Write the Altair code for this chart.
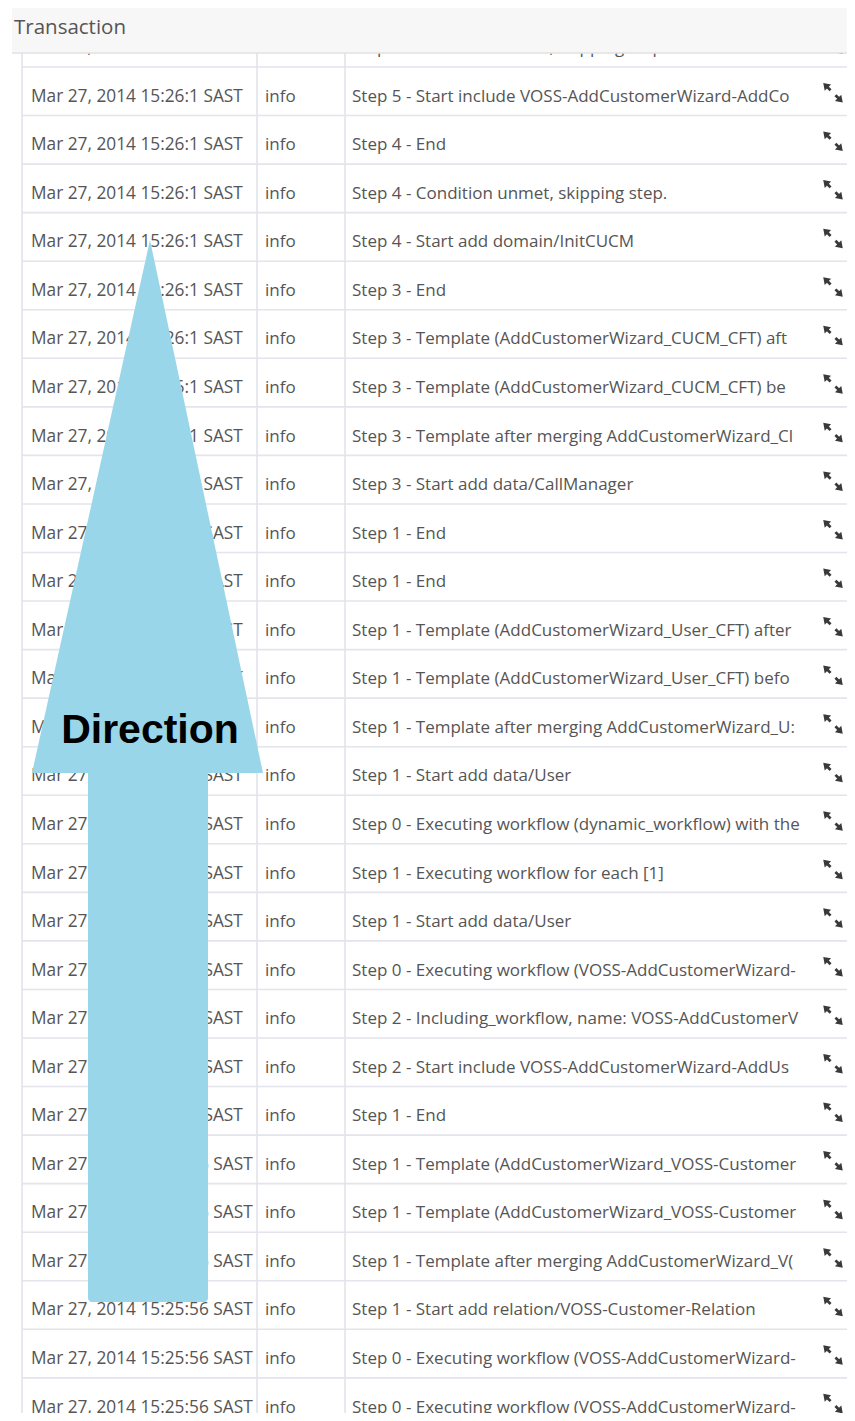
import altair as alt
import pandas as pd

# ---------------- data ----------------
timestamps = [
    "Mar 27, 2014 15:26:1 SAST",
    "Mar 27, 2014 15:26:1 SAST",
    "Mar 27, 2014 15:26:1 SAST",
    "Mar 27, 2014 15:26:1 SAST",
    "Mar 27, 2014 15:26:1 SAST",
    "Mar 27, 2014 15:26:1 SAST",
    "Mar 27, 2014 15:26:1 SAST",
    "Mar 27, 2014 15:26:1 SAST",
    "Mar 27, 2014 15:26:1 SAST",
    "Mar 27, 2014 15:26:1 SAST",
    "Mar 27, 2014 15:26:1 SAST",
    "Mar 27, 2014 15:26:1 SAST",
    "Mar 27, 2014 15:26:1 SAST",
    "Mar 27, 2014 15:26:1 SAST",
    "Mar 27, 2014 15:26:1 SAST",
    "Mar 27, 2014 15:26:1 SAST",
    "Mar 27, 2014 15:26:1 SAST",
    "Mar 27, 2014 15:26:1 SAST",
    "Mar 27, 2014 15:26:1 SAST",
    "Mar 27, 2014 15:26:1 SAST",
    "Mar 27, 2014 15:26:1 SAST",
    "Mar 27, 2014 15:26:1 SAST",
    "Mar 27, 2014 15:26:1 SAST",
    "Mar 27, 2014 15:25:56 SAST",
    "Mar 27, 2014 15:25:56 SAST",
    "Mar 27, 2014 15:25:56 SAST",
    "Mar 27, 2014 15:25:56 SAST",
    "Mar 27, 2014 15:25:56 SAST",
    "Mar 27, 2014 15:25:56 SAST",
]

levels = [
    "info", "info", "info", "info", "info", "info", "info", "info", "info", "info",
    "info", "info", "info", "info", "info", "info", "info", "info", "info", "info",
    "info", "info", "info", "info", "info", "info", "info", "info", "info",
]

messages = [
    "Step 5 - Condition unmet, skipping step.",
    "Step 5 - Start include VOSS-AddCustomerWizard-AddCo",
    "Step 4 - End",
    "Step 4 - Condition unmet, skipping step.",
    "Step 4 - Start add domain/InitCUCM",
    "Step 3 - End",
    "Step 3 - Template (AddCustomerWizard_CUCM_CFT) aft",
    "Step 3 - Template (AddCustomerWizard_CUCM_CFT) be",
    "Step 3 - Template after merging AddCustomerWizard_Cl",
    "Step 3 - Start add data/CallManager",
    "Step 1 - End",
    "Step 1 - End",
    "Step 1 - Template (AddCustomerWizard_User_CFT) after",
    "Step 1 - Template (AddCustomerWizard_User_CFT) befo",
    "Step 1 - Template after merging AddCustomerWizard_U:",
    "Step 1 - Start add data/User",
    "Step 0 - Executing workflow (dynamic_workflow) with the",
    "Step 1 - Executing workflow for each [1]",
    "Step 1 - Start add data/User",
    "Step 0 - Executing workflow (VOSS-AddCustomerWizard-",
    "Step 2 - Including_workflow, name: VOSS-AddCustomerV",
    "Step 2 - Start include VOSS-AddCustomerWizard-AddUs",
    "Step 1 - End",
    "Step 1 - Template (AddCustomerWizard_VOSS-Customer",
    "Step 1 - Template (AddCustomerWizard_VOSS-Customer",
    "Step 1 - Template after merging AddCustomerWizard_V(",
    "Step 1 - Start add relation/VOSS-Customer-Relation",
    "Step 0 - Executing workflow (VOSS-AddCustomerWizard-",
    "Step 0 - Executing workflow (VOSS-AddCustomerWizard-",
]

header_title = "Transaction"
arrow_label = "Direction"

# ---------------- layout (pixel geometry of the page) ----------------
W, H = 839, 1405
ROW_TOP0 = 67.0      # top of first full row (page px)
ROW_H = 48.55        # row height (page px)


def ry(py):
    """page pixel y -> row units"""
    return (py - ROW_TOP0) / ROW_H


X_DOM = [8, 8 + W]
Y_DOM = [ry(8), ry(8 + H)]

HEADER_BOTTOM = 53
COL_LINES = [22, 257, 345]
TEXT_X = [31, 265, 352]
ICON_X = 833
RIGHT = 8 + W

xs = alt.Scale(domain=X_DOM, nice=False, zero=False)
ys = alt.Scale(domain=Y_DOM, nice=False, zero=False, reverse=True)


def X(f):
    return alt.X(f, type="quantitative", scale=xs, axis=None)


def X2(f):
    return alt.X2(f)


def Y(f):
    return alt.Y(f, type="quantitative", scale=ys, axis=None)


def Y2(f):
    return alt.Y2(f)


n = len(messages)
rows = pd.DataFrame({
    "row": list(range(-1, n - 1)),
    "ts": timestamps,
    "lvl": levels,
    "msg": messages,
})
rows["top"] = rows["row"].astype(float)
rows["base"] = rows["row"] + 0.715
rows["mid"] = rows["row"] + 0.53
rows["xl"] = COL_LINES[0]
rows["xr"] = RIGHT
rows["x1"] = TEXT_X[0]
rows["x2t"] = TEXT_X[1]
rows["x3"] = TEXT_X[2]
rows["xi"] = ICON_X

grey_line = "#e3e4ec"
text_col = "#555555"
font = "Open Sans"
fs = 17

hrules = alt.Chart(rows).mark_rule(color=grey_line, strokeWidth=1.6).encode(
    x=X("xl"), x2=X2("xr"), y=Y("top"))

vcols = pd.DataFrame({"x": COL_LINES, "y": [ry(HEADER_BOTTOM)] * 3, "y2": [Y_DOM[1]] * 3})
vrules = alt.Chart(vcols).mark_rule(color=grey_line, strokeWidth=1.6).encode(
    x=X("x"), y=Y("y"), y2=Y2("y2"))

t1 = alt.Chart(rows).mark_text(align="left", baseline="alphabetic", font=font,
                               fontSize=fs + 0.3, color=text_col).encode(
    x=X("x1"), y=Y("base"), text="ts:N")
t2 = alt.Chart(rows).mark_text(align="left", baseline="alphabetic", font=font,
                               fontSize=fs, color=text_col).encode(
    x=X("x2t"), y=Y("base"), text="lvl:N")
t3 = alt.Chart(rows).mark_text(align="left", baseline="alphabetic", font=font,
                               fontSize=fs, color=text_col, limit=466, ellipsis=" ").encode(
    x=X("x3"), y=Y("base"), text="msg:N")

icon_path = ("M-1,-1 L-0.2,-0.85 L-0.85,-0.2 Z "
             "M-0.65,-0.45 L-0.45,-0.65 L-0.15,-0.35 L-0.35,-0.15 Z "
             "M1,1 L0.2,0.85 L0.85,0.2 Z "
             "M0.65,0.45 L0.45,0.65 L0.15,0.35 L0.35,0.15 Z")
icons = alt.Chart(rows).mark_point(shape=icon_path, filled=True, size=380,
                                   color="#3a3a3a", opacity=1).encode(
    x=X("xi"), y=Y("mid"))

hdr = pd.DataFrame({"x": [12], "x2": [RIGHT], "y": [Y_DOM[0]], "y2": [ry(HEADER_BOTTOM)],
                    "tx": [14], "ty": [ry(33.5)], "t": [header_title]})
hdr_rect = alt.Chart(hdr).mark_rect(color="#f7f7f7").encode(
    x=X("x"), x2=X2("x2"), y=Y("y"), y2=Y2("y2"))
hdr_line = alt.Chart(hdr).mark_rule(color="#e2e2e2", strokeWidth=1.5).encode(
    x=X("x"), x2=X2("x2"), y=Y("y2"))
hdr_text = alt.Chart(hdr).mark_text(align="left", baseline="alphabetic", font=font,
                                    fontSize=20.5, color=text_col).encode(
    x=X("tx"), y=Y("ty"), text="t:N")

# arrow: triangular head (area) + shaft (rect)
arrow_color = "#9ad6e9"
head = pd.DataFrame({
    "x": [32, 150, 263],
    "ytop": [ry(773), ry(240), ry(773)],
    "ybot": [ry(773), ry(773), ry(773)],
})
arrow_head = alt.Chart(head).mark_area(color=arrow_color, opacity=1,
                                       interpolate="linear").encode(
    x=X("x"), y=Y("ytop"), y2=Y2("ybot"))

shaft = pd.DataFrame({"x": [88], "x2": [208], "y": [ry(771)], "y2": [ry(1302)]})
arrow_shaft = alt.Chart(shaft).mark_rect(color=arrow_color, opacity=1,
                                         cornerRadiusBottomLeft=4,
                                         cornerRadiusBottomRight=4).encode(
    x=X("x"), x2=X2("x2"), y=Y("y"), y2=Y2("y2"))

lab = pd.DataFrame({"x": [150], "y": [ry(743)], "t": [arrow_label]})
arrow_text = alt.Chart(lab).mark_text(align="center", baseline="alphabetic",
                                      font="Liberation Sans", fontWeight="bold",
                                      fontSize=41, color="#000000").encode(
    x=X("x"), y=Y("y"), text="t:N")

chart = alt.layer(
    hrules, vrules, t1, t2, t3, icons, hdr_rect, hdr_line, hdr_text,
    arrow_head, arrow_shaft, arrow_text
).properties(
    width=W, height=H, padding=0,
    autosize=alt.AutoSizeParams(type="none"),
).configure_view(stroke=None)

chart.save("out.html", embed_options={"renderer": "svg", "actions": False})
